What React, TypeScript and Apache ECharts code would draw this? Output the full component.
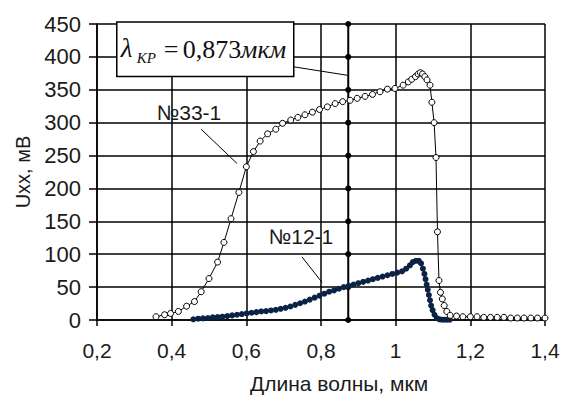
import React, { useEffect, useRef } from "react";
import * as echarts from "echarts";

// Sample №33-1 (open circles)
const x331 = [
  0.358, 0.381, 0.397, 0.418, 0.44, 0.461, 0.479, 0.5, 0.523, 0.54, 0.559, 0.58, 0.6,
  0.619, 0.637, 0.657, 0.679, 0.697, 0.719, 0.738, 0.757, 0.777, 0.796, 0.817, 0.838,
  0.858, 0.878, 0.897, 0.918, 0.938, 0.958, 0.978, 0.998, 1.02, 1.034, 1.043, 1.053,
  1.06, 1.066, 1.072, 1.078, 1.084, 1.092, 1.097, 1.103, 1.108, 1.112, 1.116, 1.12,
  1.125, 1.13, 1.137, 1.146, 1.163, 1.18, 1.2, 1.218, 1.236, 1.254, 1.272, 1.29,
  1.308, 1.326, 1.344, 1.362, 1.38, 1.4,
];
const y331 = [
  5, 8, 10, 13, 21, 28, 43, 63, 88, 118, 154, 194, 233,
  256, 272, 283, 290, 299, 304, 308, 312, 316, 320, 324, 329,
  332, 334, 337, 340, 343, 347, 351, 352, 357, 362, 366, 370,
  374, 376, 374, 370, 365, 357, 331, 300, 247, 134, 60, 42,
  32, 22, 13, 7, 6, 5, 5, 5, 4, 4, 4, 4,
  3, 3, 3, 3, 3, 3,
];

// Sample №12-1 (filled dots)
const x121 = [
  0.458, 0.471, 0.484, 0.497, 0.51, 0.523, 0.536, 0.549, 0.562, 0.575, 0.588, 0.601,
  0.614, 0.627, 0.64, 0.653, 0.666, 0.679, 0.692, 0.705, 0.718, 0.731, 0.744, 0.757,
  0.77, 0.783, 0.796, 0.809, 0.822, 0.835, 0.848, 0.861, 0.874, 0.887, 0.9, 0.913,
  0.926, 0.939, 0.952, 0.965, 0.978, 0.991, 1.004, 1.017, 1.028, 1.038, 1.046, 1.054,
  1.062, 1.068, 1.073, 1.077, 1.08, 1.083, 1.086, 1.089, 1.092, 1.095, 1.099, 1.104,
  1.11, 1.117, 1.124, 1.131, 1.138, 1.145,
];
const y121 = [
  1, 2, 2.5, 3, 4, 4.5, 5, 6, 7, 8, 9, 10,
  11, 12, 13, 13.5, 14.5, 15.5, 17, 18.5, 20.5, 23, 25.5, 28,
  31, 34, 37, 40, 43, 45, 47.5, 50, 52, 54, 56, 58,
  60, 62, 64, 66, 68, 70, 72, 74, 78, 83, 88, 90,
  90, 86, 78, 70, 62, 54, 46, 38, 30, 22, 15, 8,
  3, 1, 0.5, 0.5, 0.5, 0.5,
];

// Critical wavelength marker line
const lambdaKp = 0.873;
const lambdaDots = [0, 50, 100, 150, 200, 250, 300, 350, 400, 450];

const labels = ["№33-1", "№12-1"];
const xTitle = "Длина волны, мкм";
const yTitle = "Uxx, мВ";

export default function App() {
  const ref = useRef<HTMLDivElement>(null);

  useEffect(() => {
    const chart = echarts.init(ref.current!, undefined, { renderer: "svg" });
    const font = "'Liberation Sans', Arial, sans-serif";
    const serif = "'Liberation Serif', 'Times New Roman', serif";
    const black = "#000";
    chart.setOption({
      animation: false,
      backgroundColor: "#fff",
      grid: { left: 97, right: 35, top: 24, bottom: 83, containLabel: false },
      xAxis: {
        type: "value",
        min: 0.2,
        max: 1.4,
        interval: 0.2,
        name: xTitle,
        nameLocation: "middle",
        nameGap: 53,
        nameTextStyle: { fontFamily: font, fontSize: 21, color: "#1a1a1a", padding: [0, 0, 0, 36] },
        axisLine: { show: true, lineStyle: { color: black, width: 1.5 } },
        axisTick: { show: true, length: 6, lineStyle: { color: black, width: 1.5 } },
        splitLine: { show: true, lineStyle: { color: black, width: 1.5 } },
        axisLabel: {
          fontFamily: font,
          fontSize: 21,
          color: "#1a1a1a",
          margin: 20,
          formatter: (v: number) => String(Math.round(v * 10) / 10).replace(".", ","),
        },
      },
      yAxis: {
        type: "value",
        min: 0,
        max: 450,
        interval: 50,
        name: yTitle,
        nameLocation: "middle",
        nameGap: 62,
        nameRotate: 90,
        nameTextStyle: { fontFamily: font, fontSize: 20, color: "#1a1a1a" },
        axisLine: { show: true, lineStyle: { color: black, width: 1.5 } },
        axisTick: { show: true, length: 8, lineStyle: { color: black, width: 1.5 } },
        splitLine: { show: true, lineStyle: { color: black, width: 1.5 } },
        axisLabel: { fontFamily: font, fontSize: 22, color: "#1a1a1a", margin: 16 },
      },
      series: [
        {
          type: "line",
          data: lambdaDots.map((y) => [lambdaKp, y]),
          lineStyle: { color: black, width: 2 },
          symbol: "circle",
          symbolSize: 6,
          itemStyle: { color: black },
          z: 2,
        },
        {
          type: "line",
          name: labels[1],
          data: x121.map((x, i) => [x, y121[i]]),
          lineStyle: { color: "#0b2244", width: 1.5 },
          symbol: "circle",
          symbolSize: 6,
          itemStyle: { color: "#0b2244", borderWidth: 0 },
          z: 3,
        },
        {
          type: "line",
          name: labels[0],
          data: x331.map((x, i) => [x, y331[i]]),
          lineStyle: { color: black, width: 1 },
          symbol: "circle",
          symbolSize: 6,
          itemStyle: { color: "#fff", borderColor: black, borderWidth: 1 },
          z: 4,
        },
      ],
    });

    // annotation anchors in data coordinates
    const p = (x: number, y: number) => chart.convertToPixel({ gridIndex: 0 }, [x, y]) as number[];
    const boxTL = p(0.253, 453);
    const boxBR = p(0.727, 370);
    const lamFrom = p(0.726, 385);
    const lamTo = p(0.871, 372);
    const l33from = p(0.479, 290);
    const l33to = p(0.575, 238);
    const l12from = p(0.749, 96);
    const l12to = p(0.803, 57);
    const t33 = p(0.36, 315);
    const t12 = p(0.66, 127);
    const bx = boxTL[0];
    const by = boxTL[1];
    const bh = boxBR[1] - boxTL[1];

    chart.setOption({
      graphic: [
        { type: "line", shape: { x1: lamFrom[0], y1: lamFrom[1], x2: lamTo[0], y2: lamTo[1] }, style: { stroke: black, lineWidth: 1 }, z: 10 },
        { type: "line", shape: { x1: l33from[0], y1: l33from[1], x2: l33to[0], y2: l33to[1] }, style: { stroke: black, lineWidth: 1 }, z: 10 },
        { type: "line", shape: { x1: l12from[0], y1: l12from[1], x2: l12to[0], y2: l12to[1] }, style: { stroke: black, lineWidth: 1 }, z: 10 },
        {
          type: "rect",
          shape: { x: bx, y: by, width: boxBR[0] - bx, height: bh },
          style: { fill: "#fff", stroke: black, lineWidth: 1.5 },
          z: 11,
        },
        { type: "text", x: bx + 4, y: by + bh / 2 - 1, style: { text: "λ", font: `italic 27px ${serif}`, fill: "#111", verticalAlign: "middle" }, z: 12 },
        { type: "text", x: bx + 20, y: by + bh / 2 + 9, style: { text: "KP", font: `italic 15px ${serif}`, fill: "#111", verticalAlign: "middle" }, z: 12 },
        { type: "text", x: bx + 47, y: by + bh / 2, style: { text: "=", font: `26px ${serif}`, fill: "#111", verticalAlign: "middle" }, z: 12 },
        { type: "text", x: bx + 66, y: by + bh / 2, style: { text: "0,873", font: `26px ${serif}`, fill: "#111", verticalAlign: "middle" }, z: 12 },
        { type: "text", x: bx + 124, y: by + bh / 2, style: { text: "мкм", font: `italic 26px ${serif}`, fill: "#111", verticalAlign: "middle" }, z: 12 },
        { type: "text", x: t33[0], y: t33[1], style: { text: labels[0], font: `21px ${font}`, fill: "#1a1a1a", verticalAlign: "middle" }, z: 12 },
        { type: "text", x: t12[0], y: t12[1], style: { text: labels[1], font: `21px ${font}`, fill: "#1a1a1a", verticalAlign: "middle" }, z: 12 },
      ],
    });

    return () => chart.dispose();
  }, []);

  return <div ref={ref} style={{ position: "fixed", left: 0, top: 0, width: 580, height: 403, background: "#fff" }} />;
}
